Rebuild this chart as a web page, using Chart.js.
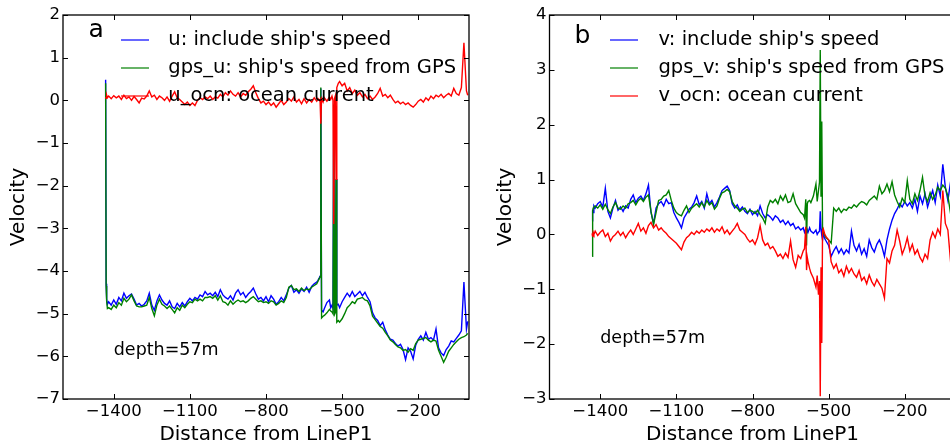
<!DOCTYPE html>
<html>
<head>
<meta charset="utf-8">
<script src="https://cdn.jsdelivr.net/npm/chart.js@4.4.1/dist/chart.umd.min.js"></script>
<style>
  html, body { margin: 0; padding: 0; background: #fff; overflow: hidden; }
  #wrap { position: relative; width: 950px; height: 447px; overflow: hidden; }
  #chartU { position: absolute; left: 0; top: 0; }
  #chartV { position: absolute; left: 480px; top: 0; }
</style>
</head>
<body>
<div id="wrap">
  <canvas id="chartU" width="480" height="447"></canvas>
  <canvas id="chartV" width="490" height="447"></canvas>
</div>
<script>
// distance along the track (shared by both panels)
const dist = [
  -1432, -1430, -1428, -1425, -1420, -1410, -1400, -1390, -1380, -1370,
  -1360, -1350, -1340, -1330, -1320, -1310, -1300, -1290, -1280, -1270,
  -1260, -1250, -1240, -1230, -1220, -1210, -1200, -1190, -1180, -1170,
  -1160, -1150, -1140, -1130, -1120, -1110, -1100, -1090, -1080, -1070,
  -1060, -1050, -1040, -1030, -1020, -1010, -1000, -990, -980, -970,
  -960, -950, -940, -930, -920, -910, -900, -890, -880, -870,
  -860, -850, -840, -830, -820, -810, -800, -790, -780, -770,
  -760, -750, -740, -730, -720, -710, -700, -690, -680, -670,
  -660, -650, -640, -630, -620, -610, -600, -595, -590, -587,
  -584, -581, -575, -570, -560, -550, -545, -540, -536, -533,
  -530, -527, -524, -521, -515, -510, -500, -490, -480, -470,
  -460, -450, -440, -430, -420, -410, -400, -390, -380, -370,
  -360, -350, -340, -330, -320, -310, -300, -290, -280, -270,
  -260, -250, -240, -230, -220, -210, -200, -190, -180, -170,
  -160, -150, -140, -130, -120, -110, -100, -90, -80, -70,
  -60, -50, -40, -30, -20, -10, -5
];

// panel a: east-west
const uShip = [
  0.48, -4.30, -4.65, -4.78, -4.72, -4.80, -4.68, -4.78, -4.62, -4.70,
  -4.52, -4.64, -4.58, -4.54, -4.66, -4.80, -4.76, -4.82, -4.78, -4.70,
  -4.52, -4.80, -4.92, -4.70, -4.56, -4.68, -4.76, -4.80, -4.70, -4.84,
  -4.88, -4.76, -4.84, -4.74, -4.82, -4.72, -4.64, -4.70, -4.62, -4.66,
  -4.56, -4.60, -4.48, -4.56, -4.52, -4.58, -4.50, -4.60, -4.44, -4.56,
  -4.62, -4.66, -4.58, -4.68, -4.52, -4.44, -4.56, -4.50, -4.62, -4.54,
  -4.48, -4.40, -4.54, -4.66, -4.62, -4.70, -4.60, -4.72, -4.58, -4.66,
  -4.78, -4.72, -4.62, -4.70, -4.56, -4.40, -4.34, -4.50, -4.44, -4.52,
  -4.42, -4.48, -4.38, -4.50, -4.36, -4.30, -4.26, -4.22, -4.16, -4.12,
  0.28, -4.92, -4.96, -4.88, -4.74, -4.68, -4.86, -4.80, -4.88, -0.12,
  -4.86, -4.90, -1.85, -4.80, -4.78, -4.86, -4.72, -4.62, -4.52, -4.60,
  -4.48, -4.60, -4.54, -4.48, -4.58, -4.50, -4.62, -4.72, -4.98, -5.10,
  -5.16, -5.28, -5.20, -5.38, -5.50, -5.60, -5.62, -5.70, -5.76, -5.72,
  -5.84, -6.08, -5.80, -5.88, -6.06, -5.74, -5.60, -5.52, -5.62, -5.44,
  -5.60, -5.56, -5.62, -5.36, -5.80, -5.92, -5.98, -5.84, -5.76, -5.64,
  -5.66, -5.58, -5.50, -5.40, -4.26, -5.36, -5.18
];
const uGps = [
  0.40, -4.35, -4.70, -4.88, -4.86, -4.90, -4.80, -4.86, -4.74, -4.80,
  -4.64, -4.72, -4.66, -4.56, -4.70, -4.82, -4.84, -4.84, -4.82, -4.80,
  -4.62, -4.88, -5.05, -4.80, -4.66, -4.78, -4.82, -4.88, -4.82, -4.90,
  -4.98, -4.86, -4.92, -4.80, -4.86, -4.78, -4.72, -4.74, -4.66, -4.70,
  -4.66, -4.70, -4.62, -4.62, -4.60, -4.64, -4.58, -4.68, -4.58, -4.72,
  -4.74, -4.80, -4.70, -4.78, -4.72, -4.68, -4.72, -4.70, -4.74, -4.70,
  -4.64, -4.60, -4.66, -4.72, -4.70, -4.74, -4.72, -4.76, -4.70, -4.72,
  -4.80, -4.76, -4.70, -4.74, -4.62, -4.38, -4.34, -4.44, -4.42, -4.48,
  -4.40, -4.46, -4.42, -4.44, -4.38, -4.34, -4.30, -4.24, -4.18, -4.14,
  0.30, -5.10, -5.06, -5.04, -4.98, -4.90, -4.94, -4.96, -5.00, -0.10,
  -5.02, -4.98, -1.85, -5.20, -5.16, -5.20, -5.12, -5.00, -4.86, -4.80,
  -4.72, -4.76, -4.66, -4.64, -4.62, -4.68, -4.70, -4.82, -5.06, -5.14,
  -5.22, -5.30, -5.34, -5.44, -5.52, -5.62, -5.66, -5.72, -5.78, -5.80,
  -5.86, -5.84, -5.90, -5.82, -5.86, -5.70, -5.62, -5.60, -5.58, -5.56,
  -5.62, -5.66, -5.62, -5.64, -5.86, -6.00, -6.14, -6.02, -5.88, -5.80,
  -5.72, -5.66, -5.60, -5.56, -5.54, -5.50, -5.46
];
const uOcn = [
  0.08, 0.05, 0.12, 0.06, 0.10, 0.04, 0.11, 0.06, 0.10, 0.02,
  0.12, 0.04, 0.08, 0.00, 0.09, 0.02, -0.06, 0.05, 0.03, 0.10,
  0.22, 0.08, 0.12, 0.02, 0.10, 0.06, 0.00, 0.08, -0.02, 0.10,
  0.20, 0.06, 0.02, -0.04, -0.10, -0.04, -0.12, -0.06, -0.12, 0.00,
  0.06, 0.02, 0.08, 0.04, 0.10, 0.02, 0.08, 0.05, 0.14, 0.08,
  0.18, 0.12, 0.22, 0.14, 0.10, 0.18, 0.08, 0.16, 0.12, 0.20,
  0.26, 0.34, 0.18, 0.04, -0.06, -0.02, -0.10, -0.04, -0.12, -0.06,
  -0.16, -0.08, 0.00, -0.10, -0.04, 0.04, -0.02, 0.08, -0.04, 0.02,
  -0.08, 0.04, -0.06, 0.02, -0.04, 0.06, -0.02, 0.04, 0.00, 0.02,
  -0.55, 0.04, -0.04, 0.06, -0.02, 0.08, 0.02, 0.10, 0.00, -2.90,
  0.04, 0.10, -1.85, 0.30, 0.40, 0.44, 0.34, 0.40, 0.22, 0.30,
  0.16, 0.24, 0.12, 0.18, 0.08, 0.14, 0.04, 0.10, 0.02, 0.08,
  0.16, 0.28, 0.10, 0.14, 0.06, 0.12, 0.02, -0.06, -0.02, -0.08,
  -0.04, -0.10, -0.06, -0.12, -0.16, -0.10, -0.02, 0.02, -0.04, 0.06,
  0.00, 0.10, 0.04, 0.12, 0.08, 0.14, 0.06, 0.12, 0.16, 0.10,
  0.28, 0.16, 0.12, 0.30, 1.35, 0.22, 0.12
];

// panel b: north-south
const vShip = [
  0.25, 0.45, 0.40, 0.52, 0.48, 0.56, 0.60, 0.50, 0.84, 0.42,
  0.30, 0.48, 0.62, 0.44, 0.50, 0.42, 0.52, 0.48, 0.64, 0.72,
  0.58, 0.66, 0.70, 0.62, 0.74, 0.90, 0.40, 0.20, 0.48, 0.56,
  0.60, 0.52, 0.64, 0.56, 0.58, 0.40, 0.30, 0.22, 0.12, 0.30,
  0.38, 0.46, 0.50, 0.58, 0.70, 0.54, 0.60, 0.48, 0.74, 0.56,
  0.62, 0.50, 0.58, 0.68, 0.80, 0.84, 0.88, 0.80, 0.56, 0.48,
  0.54, 0.44, 0.50, 0.42, 0.38, 0.46, 0.36, 0.42, 0.34, 0.52,
  0.38, 0.30, 0.36, 0.32, 0.26, 0.34, 0.30, 0.22, 0.26, 0.18,
  0.24, 0.16, 0.20, 0.10, 0.14, 0.08, 0.12, 0.04, 0.10, 0.02,
  0.08, 0.04, 0.12, 0.06, 0.02, 0.08, 0.00, 0.04, 0.06, 0.42,
  0.10, -0.02, -0.10, 0.02, -0.08, -0.12, -0.20, -0.40, -0.30, -0.22,
  -0.34, -0.26, -0.36, -0.28, -0.34, 0.06, -0.20, -0.30, -0.18, -0.36,
  -0.26, -0.40, -0.10, -0.24, -0.32, -0.18, -0.10, -0.22, -0.40, -0.10,
  0.10, 0.26, 0.38, 0.46, 0.56, 0.50, 0.60, 0.52, 0.58, 0.48,
  0.64, 0.42, 0.70, 0.56, 0.74, 0.50, 0.66, 0.80, 0.58, 0.90,
  0.70, 1.28, 0.86, 0.62, 0.94, 0.70, 0.80
];
const vGps = [
  -0.40, 0.42, 0.48, 0.50, 0.52, 0.48, 0.54, 0.46, 0.55, 0.45,
  0.38, 0.50, 0.58, 0.48, 0.46, 0.52, 0.48, 0.56, 0.58, 0.62,
  0.54, 0.62, 0.66, 0.60, 0.68, 0.72, 0.42, 0.18, 0.40, 0.62,
  0.64, 0.70, 0.72, 0.80, 0.62, 0.48, 0.40, 0.36, 0.34, 0.44,
  0.52, 0.40, 0.48, 0.52, 0.56, 0.50, 0.58, 0.50, 0.62, 0.54,
  0.58, 0.46, 0.52, 0.66, 0.76, 0.78, 0.82, 0.78, 0.60, 0.52,
  0.48, 0.42, 0.46, 0.48, 0.40, 0.44, 0.42, 0.38, 0.44, 0.36,
  0.30, 0.20, 0.50, 0.62, 0.58, 0.64, 0.56, 0.70, 0.62, 0.72,
  0.58, 0.60, 0.74, 0.56, 0.48, 0.40, 0.36, 0.30, 0.64, -0.20,
  0.56, 0.60, 0.62, 0.58, 0.70, 0.92, 0.60, 0.80, 0.95, 3.36,
  0.70, 2.06, 0.10, 0.04, -0.02, -0.06, -0.10, -0.16, 0.48, 0.42,
  0.48, 0.40, 0.46, 0.44, 0.50, 0.48, 0.54, 0.50, 0.56, 0.60,
  0.58, 0.54, 0.62, 0.66, 0.70, 0.64, 0.88, 0.74, 0.80, 0.92,
  0.78, 0.96, 0.72, 0.60, 0.50, 0.66, 0.58, 0.98, 0.64, 0.56,
  0.74, 0.62, 0.80, 1.04, 0.70, 0.60, 0.76, 0.64, 0.72, 0.86,
  0.80, 0.90, 0.84, 0.70, 0.40, 0.52, 0.60
];
const vOcn = [
  0.02, -0.04, 0.04, 0.00, 0.06, -0.02, 0.04, 0.08, -0.04, 0.02,
  -0.12, -0.04, 0.00, 0.06, -0.02, 0.04, -0.06, 0.02, 0.08, 0.00,
  0.10, 0.20, 0.06, 0.12, 0.02, 0.16, 0.22, 0.12, 0.18, 0.08,
  0.12, 0.06, 0.02, -0.04, -0.08, -0.12, -0.16, -0.22, -0.28, -0.14,
  -0.06, -0.02, 0.04, 0.00, 0.06, 0.02, 0.08, 0.04, 0.10, 0.06,
  0.12, 0.04, 0.10, 0.06, 0.14, 0.02, 0.08, 0.00, 0.06, 0.12,
  0.20, 0.08, 0.04, 0.00, -0.08, -0.14, -0.10, -0.18, -0.06, 0.16,
  -0.10, -0.20, -0.16, -0.26, -0.22, -0.30, -0.40, -0.36, -0.44, -0.34,
  -0.42, -0.12, -0.46, -0.60, -0.38, -0.44, -0.30, -0.26, 0.14, -0.65,
  -0.42, -0.50, -0.62, -0.70, -0.80, -0.96, -0.75, -1.10, -0.85, -2.95,
  -0.60, -1.98, 0.06, 0.10, 0.00, -0.04, -0.10, -0.50, -0.62, -0.54,
  -0.70, -0.64, -0.76, -0.58, -0.70, -0.62, -0.72, -0.78, -0.66, -0.84,
  -0.78, -0.90, -0.74, -0.86, -0.94, -0.82, -0.90, -0.98, -1.16, -0.44,
  -0.52, -0.30, -0.20, 0.08, -0.12, -0.36, -0.24, -0.06, -0.30, -0.18,
  -0.36, -0.28, -0.42, -0.50, -0.36, -0.44, -0.10, 0.04, -0.06, 0.10,
  0.00, 0.80, 0.20, 0.08, -0.46, -0.10, 0.04
];

const xTicks = [-1400, -1100, -800, -500, -200];
const uTicks = [-7, -6, -5, -4, -3, -2, -1, 0, 1, 2];
const vTicks = [-3, -2, -1, 0, 1, 2, 3, 4];
const uLabels = ["u: include ship's speed", "gps_u: ship's speed from GPS", "u_ocn: ocean current"];
const vLabels = ["v: include ship's speed", "gps_v: ship's speed from GPS", "v_ocn: ocean current"];
const note = 'depth=57m';
const noteX = -1400;

const colors = ['#0000ff', '#008000', '#ff0000'];
const FONT = '"DejaVu Sans"';
const fmt = v => String(v).replace('-', '\u2212');

// matplotlib-ish box: inward ticks on all sides, legend, panel tag, note
const framePlugin = {
  id: 'frame',
  afterDatasetsDraw(chart, args, o) {
    const { ctx, chartArea: a } = chart;
    const xs = chart.scales.x, ys = chart.scales.y;
    ctx.save();
    ctx.strokeStyle = '#000';
    ctx.lineWidth = 1;
    ctx.beginPath();
    xs.ticks.forEach(t => {
      const p = Math.round(xs.getPixelForValue(t.value)) + 0.5;
      ctx.moveTo(p, a.bottom); ctx.lineTo(p, a.bottom - 5);
      ctx.moveTo(p, a.top); ctx.lineTo(p, a.top + 5);
    });
    ys.ticks.forEach(t => {
      const p = Math.round(ys.getPixelForValue(t.value)) + 0.5;
      ctx.moveTo(a.left, p); ctx.lineTo(a.left + 5, p);
      ctx.moveTo(a.right, p); ctx.lineTo(a.right - 5, p);
    });
    ctx.stroke();
    ctx.lineWidth = 1.3;
    ctx.strokeRect(a.left, a.top, a.right - a.left, a.bottom - a.top);

    ctx.font = '19.5px ' + FONT;
    ctx.textBaseline = 'middle';
    ctx.textAlign = 'left';
    chart.data.datasets.forEach((ds, i) => {
      const y = o.legendY + i * 28;
      ctx.strokeStyle = ds.borderColor;
      ctx.lineWidth = 1.2;
      ctx.beginPath();
      ctx.moveTo(o.legendX, y);
      ctx.lineTo(o.legendX + 28, y);
      ctx.stroke();
      ctx.fillStyle = '#000';
      ctx.fillText(ds.label, o.textX, y);
    });

    ctx.font = '25px ' + FONT;
    ctx.textBaseline = 'alphabetic';
    ctx.fillText(o.tag, o.tagX, o.tagY);

    ctx.font = '17.5px ' + FONT;
    ctx.textBaseline = 'middle';
    ctx.fillText(note, xs.getPixelForValue(noteX), ys.getPixelForValue(o.noteY));
    ctx.restore();
  }
};

function makeChart(id, series, labels, yTicks, cfg) {
  const datasets = series.map((vals, i) => ({
    label: labels[i],
    data: dist.map((d, k) => ({ x: d, y: vals[k] })),
    borderColor: colors[i],
    borderWidth: 1.4,
    pointRadius: 0,
    tension: 0,
    fill: false,
    order: 2 - i
  }));
  return new Chart(document.getElementById(id), {
    type: 'line',
    data: { datasets },
    options: {
      responsive: false,
      animation: false,
      devicePixelRatio: 1,
      events: [],
      layout: { padding: { left: 0, top: 15, right: cfg.padRight, bottom: 0 } },
      plugins: { legend: { display: false }, tooltip: { enabled: false }, frame: cfg },
      scales: {
        x: {
          type: 'linear',
          min: -1600,
          max: 0,
          afterBuildTicks: s => { s.ticks = xTicks.map(v => ({ value: v })); },
          afterFit: s => { s.height = 48; },
          grid: { display: false, drawTicks: false },
          border: { display: false },
          ticks: { padding: 2.4, color: '#000', font: { family: 'DejaVu Sans', size: 16.5 },
                   callback: fmt, maxRotation: 0, autoSkip: false },
          title: { display: true, text: 'Distance from LineP1', color: '#000',
                   font: { family: 'DejaVu Sans', size: 20 }, padding: { top: 0, bottom: 0 } }
        },
        y: {
          type: 'linear',
          min: yTicks[0],
          max: yTicks[yTicks.length - 1],
          afterBuildTicks: s => { s.ticks = yTicks.map(v => ({ value: v })); },
          afterFit: s => { s.width = cfg.yWidth; },
          grid: { display: false, drawTicks: false },
          border: { display: false },
          ticks: { padding: 3, color: '#000', font: { family: 'DejaVu Sans', size: 16.5 }, callback: fmt },
          title: { display: true, text: 'Velocity', color: '#000',
                   font: { family: 'DejaVu Sans', size: 20 }, padding: { top: cfg.yTitlePad, bottom: 0 } }
        }
      }
    },
    plugins: [framePlugin]
  });
}

makeChart('chartU', [uShip, uGps, uOcn], uLabels, uTicks, {
  padRight: 11, yWidth: 63, yTitlePad: 6.8,
  legendX: 121, legendY: 40, textX: 168.3,
  tag: 'a', tagX: 88.5, tagY: 36.7, noteY: -5.86
});
makeChart('chartV', [vShip, vGps, vOcn], vLabels, vTicks, {
  padRight: 14.5, yWidth: 69.5, yTitlePad: 13.8,
  legendX: 130, legendY: 40, textX: 178.4,
  tag: 'b', tagX: 94.5, tagY: 43.3, noteY: -1.9
});
</script>
</body>
</html>
